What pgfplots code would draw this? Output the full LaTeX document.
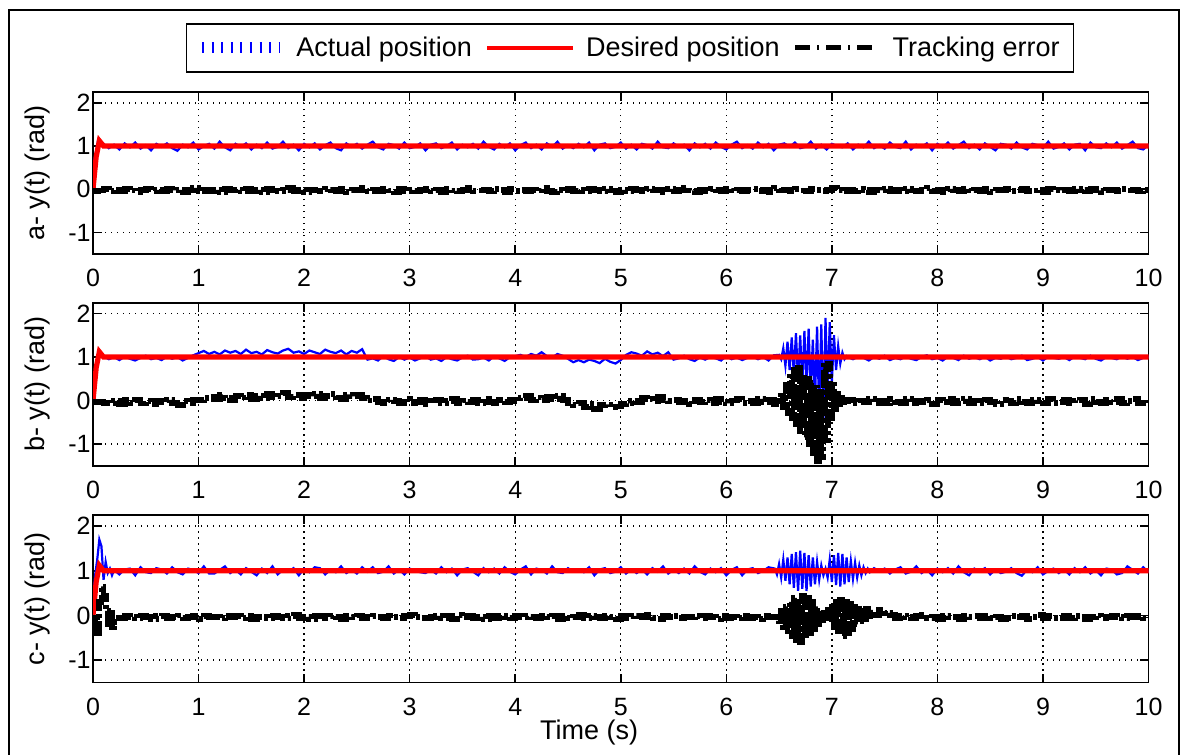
\documentclass[border=0pt]{standalone}
\usepackage{pgfplots}
\pgfplotsset{compat=1.18}
\usepackage{pgfplotstable}
\usepackage{fontspec}
\setmainfont{Liberation Sans}
\newcommand\fs{\fontsize{12.5}{15}\selectfont}
\newcommand\fl{\fontsize{13.5}{16}\selectfont}

\pgfplotstableread[row sep=\\]{
t y\\
0 0\\ 0.03 0.75\\ 0.06 1.12\\ 0.10 1.00\\ 10 1.00\\
}\tabD

\pgfplotstableread[row sep=\\]{
t y e\\
0.00 0.50 -0.04\\ 0.05 1.15 -0.03\\ 0.10 1.05 0.00\\
0.15 0.95 -0.04\\ 0.20 1.03 -0.01\\ 0.25 0.92 -0.05\\ 0.30 1.06 0.00\\ 0.35 0.97 -0.03\\ 0.40 1.08 -0.06\\ 0.45 0.94 -0.02\\ 0.50 1.02 0.01\\ 0.55 0.90 -0.04\\ 0.60 1.05 -0.02\\
0.65 0.98 -0.05\\ 0.70 1.06 0.00\\ 0.75 0.95 -0.03\\ 0.80 0.89 -0.01\\ 0.85 1.03 -0.06\\ 0.90 0.97 -0.02\\ 0.95 1.08 0.02\\ 1.00 0.92 -0.04\\ 1.05 1.00 -0.01\\ 1.10 1.05 -0.05\\
1.15 0.94 -0.02\\ 1.20 1.10 -0.06\\ 1.25 0.97 0.00\\ 1.30 0.90 -0.03\\ 1.35 1.05 -0.01\\ 1.40 0.98 -0.05\\ 1.45 1.06 0.01\\ 1.50 0.92 -0.04\\ 1.55 1.03 -0.02\\ 1.60 0.95 -0.06\\
1.65 1.08 0.00\\ 1.70 0.94 -0.03\\ 1.75 0.98 -0.05\\ 1.80 1.10 -0.01\\ 1.85 0.95 0.02\\ 1.90 1.03 -0.04\\ 1.95 0.90 -0.02\\ 2.00 1.05 -0.06\\ 2.05 0.97 -0.01\\ 2.10 1.06 -0.03\\
2.15 0.92 -0.05\\ 2.20 1.02 0.01\\ 2.25 1.08 -0.02\\ 2.30 0.95 -0.04\\ 2.35 0.90 0.00\\ 2.40 1.06 -0.06\\ 2.45 0.98 -0.01\\ 2.50 1.05 -0.03\\ 2.55 0.94 0.02\\ 2.60 1.03 -0.04\\
2.65 1.10 -0.02\\ 2.70 0.97 -0.05\\ 2.75 0.92 0.01\\ 2.80 1.05 -0.03\\ 2.85 1.02 -0.06\\ 2.90 0.94 0.00\\ 2.95 1.08 -0.04\\ 3.00 0.95 -0.01\\ 3.05 0.98 -0.05\\ 3.10 1.06 -0.02\\
3.15 0.90 0.01\\ 3.20 1.03 -0.04\\ 3.25 1.06 -0.02\\ 3.30 0.95 -0.06\\ 3.35 1.00 0.00\\ 3.40 1.08 -0.03\\ 3.45 0.92 -0.05\\ 3.50 1.03 -0.01\\ 3.55 0.97 0.02\\ 3.60 1.05 -0.04\\
3.65 0.94 -0.03\\ 3.70 1.10 -0.01\\ 3.75 0.98 -0.05\\ 3.80 0.92 0.01\\ 3.85 1.05 -0.02\\ 3.90 0.97 -0.06\\ 3.95 1.06 0.00\\ 4.00 0.90 -0.04\\ 4.05 1.02 -0.02\\ 4.10 1.08 -0.05\\
4.15 0.95 -0.01\\ 4.20 1.03 -0.03\\ 4.25 0.92 0.02\\ 4.30 1.06 -0.04\\ 4.35 0.98 -0.06\\ 4.40 1.10 -0.01\\ 4.45 0.94 -0.03\\ 4.50 1.02 0.00\\ 4.55 0.95 -0.05\\ 4.60 1.05 -0.02\\
4.65 0.97 -0.04\\ 4.70 1.08 0.00\\ 4.75 0.90 -0.02\\ 4.80 1.03 -0.05\\ 4.85 1.06 0.01\\ 4.90 0.95 -0.03\\ 4.95 0.98 -0.06\\ 5.00 1.08 -0.01\\ 5.05 0.94 -0.04\\ 5.10 1.03 0.00\\
5.15 0.92 -0.02\\ 5.20 1.05 -0.05\\ 5.25 1.02 0.01\\ 5.30 0.94 -0.03\\ 5.35 1.10 -0.01\\ 5.40 0.97 -0.06\\ 5.45 0.95 0.00\\ 5.50 1.06 -0.04\\ 5.55 0.98 -0.02\\ 5.60 1.03 0.02\\
5.65 0.90 -0.03\\ 5.70 1.06 -0.06\\ 5.75 0.97 -0.01\\ 5.80 1.05 -0.04\\ 5.85 0.94 0.00\\ 5.90 1.08 -0.02\\ 5.95 0.98 -0.05\\ 6.00 0.92 0.01\\ 6.05 1.03 -0.03\\ 6.10 1.10 -0.01\\
6.15 0.95 -0.05\\ 6.20 1.02 -0.02\\ 6.25 0.94 0.00\\ 6.30 1.08 -0.04\\ 6.35 0.97 -0.01\\ 6.40 1.05 -0.06\\ 6.45 0.90 0.02\\ 6.50 1.03 -0.03\\ 6.55 1.06 -0.01\\ 6.60 0.98 -0.04\\
6.65 1.08 0.00\\ 6.70 0.95 -0.03\\ 6.75 0.98 -0.05\\ 6.80 1.10 0.01\\ 6.85 0.94 -0.02\\ 6.90 1.03 -0.04\\ 6.95 0.92 -0.01\\ 7.00 1.05 0.03\\ 7.05 1.00 -0.02\\ 7.10 0.97 -0.05\\
7.15 1.06 -0.01\\ 7.20 0.92 -0.04\\ 7.25 1.03 0.00\\ 7.30 0.97 -0.02\\ 7.35 1.10 -0.06\\ 7.40 0.95 -0.01\\ 7.45 1.02 -0.03\\ 7.50 0.94 0.01\\ 7.55 1.08 -0.05\\ 7.60 0.98 -0.02\\
7.65 0.95 -0.04\\ 7.70 1.10 0.00\\ 7.75 0.92 -0.03\\ 7.80 1.03 -0.05\\ 7.85 0.98 -0.01\\ 7.90 1.06 0.02\\ 7.95 0.90 -0.04\\ 8.00 1.05 -0.02\\ 8.05 0.97 -0.06\\ 8.10 1.08 0.00\\
8.15 0.94 -0.02\\ 8.20 1.02 -0.05\\ 8.25 1.10 0.01\\ 8.30 0.95 -0.03\\ 8.35 1.03 -0.01\\ 8.40 0.92 -0.04\\ 8.45 1.06 0.00\\ 8.50 0.98 -0.06\\ 8.55 0.90 -0.02\\ 8.60 1.05 -0.03\\
8.65 1.03 0.00\\ 8.70 0.94 -0.04\\ 8.75 1.08 -0.02\\ 8.80 0.97 0.01\\ 8.85 0.92 -0.05\\ 8.90 1.05 -0.03\\ 8.95 1.02 -0.01\\ 9.00 0.95 -0.06\\ 9.05 1.10 0.00\\ 9.10 0.94 -0.02\\
9.15 0.98 -0.03\\ 9.20 1.06 -0.01\\ 9.25 0.92 -0.05\\ 9.30 1.03 0.00\\ 9.35 1.05 -0.02\\ 9.40 0.90 -0.04\\ 9.45 1.08 0.01\\ 9.50 0.97 -0.03\\ 9.55 0.95 -0.06\\ 9.60 1.06 -0.01\\
9.65 0.97 -0.02\\ 9.70 1.08 -0.04\\ 9.75 0.94 0.00\\ 9.80 1.02 -0.03\\ 9.85 1.10 -0.01\\ 9.90 0.95 -0.05\\ 9.95 0.92 -0.02\\ 10.00 1.03 0.00\\
}\tabA

\pgfplotstableread[row sep=\\]{
t y e\\
0.00 0.40 -0.03\\ 0.05 1.10 -0.03\\ 0.10 1.02 -0.05\\
0.15 0.95 -0.06\\ 0.20 1.00 -0.01\\ 0.25 0.93 -0.08\\ 0.30 1.01 0.01\\ 0.35 0.96 -0.05\\ 0.40 0.92 0.02\\ 0.45 0.98 -0.07\\ 0.50 1.03 -0.02\\ 0.55 0.95 -0.09\\ 0.60 0.98 0.00\\
0.65 0.93 -0.04\\ 0.70 1.01 0.01\\ 0.75 0.96 -0.06\\ 0.80 1.00 -0.10\\ 0.85 0.92 -0.01\\ 0.90 0.98 -0.05\\ 0.95 1.04 0.02\\ 1.00 1.09 0.01\\ 1.05 1.14 0.06\\ 1.10 1.07 0.09\\
1.15 1.12 0.04\\ 1.20 1.06 0.14\\ 1.25 1.15 0.06\\ 1.30 1.10 0.02\\ 1.35 1.14 0.11\\ 1.40 1.07 0.07\\ 1.45 1.17 0.12\\ 1.50 1.09 0.03\\ 1.55 1.12 0.10\\ 1.60 1.06 0.05\\
1.65 1.16 0.16\\ 1.70 1.11 0.07\\ 1.75 1.08 0.10\\ 1.80 1.15 0.17\\ 1.85 1.19 0.08\\ 1.90 1.10 0.13\\ 1.95 1.13 0.05\\ 2.00 1.07 0.14\\ 2.05 1.15 0.09\\ 2.10 1.11 0.15\\
2.15 1.07 0.05\\ 2.20 1.17 0.11\\ 2.25 1.12 0.15\\ 2.30 1.09 0.07\\ 2.35 1.15 0.04\\ 2.40 1.06 0.14\\ 2.45 1.14 0.09\\ 2.50 1.10 0.13\\ 2.55 1.18 0.06\\ 2.60 0.94 0.00\\
2.65 0.97 0.04\\ 2.70 0.92 -0.04\\ 2.75 1.02 -0.07\\ 2.80 0.95 0.01\\ 2.85 0.91 -0.01\\ 2.90 1.00 -0.06\\ 2.95 0.94 0.03\\ 3.00 0.99 -0.05\\ 3.05 0.92 -0.03\\ 3.10 0.97 0.02\\
3.15 1.02 -0.08\\ 3.20 0.94 0.00\\ 3.25 0.97 0.02\\ 3.30 0.91 -0.05\\ 3.35 1.00 -0.02\\ 3.40 0.95 0.03\\ 3.45 0.92 -0.07\\ 3.50 0.99 0.00\\ 3.55 1.03 -0.04\\ 3.60 0.94 0.01\\
3.65 0.95 -0.06\\ 3.70 0.99 0.04\\ 3.75 0.92 -0.03\\ 3.80 1.02 -0.07\\ 3.85 0.97 0.01\\ 3.90 0.91 -0.04\\ 3.95 1.00 0.02\\ 4.00 1.02 -0.01\\ 4.05 1.05 0.06\\ 4.10 1.00 0.10\\
4.15 1.07 0.02\\ 4.20 1.03 0.07\\ 4.25 1.11 0.00\\ 4.30 1.02 0.09\\ 4.35 0.99 0.04\\ 4.40 1.07 0.11\\ 4.45 1.03 0.01\\ 4.50 0.96 -0.07\\ 4.55 0.88 -0.11\\ 4.60 0.93 -0.05\\
4.65 0.88 -0.15\\ 4.70 0.94 -0.08\\ 4.75 0.91 -0.19\\ 4.80 0.86 -0.11\\ 4.85 0.96 -0.09\\ 4.90 0.89 -0.16\\ 4.95 0.85 -0.14\\ 5.00 0.93 -0.08\\ 5.05 1.05 -0.07\\ 5.10 1.11 -0.01\\
5.15 1.08 -0.03\\ 5.20 1.03 0.05\\ 5.25 1.13 0.03\\ 5.30 1.06 -0.02\\ 5.35 1.10 0.08\\ 5.40 1.02 0.00\\ 5.45 1.11 -0.01\\ 5.50 0.94 0.02\\ 5.55 0.97 -0.03\\ 5.60 1.03 0.00\\
5.65 0.95 -0.08\\ 5.70 0.91 0.02\\ 5.75 0.99 -0.04\\ 5.80 0.94 0.01\\ 5.85 1.00 -0.06\\ 5.90 0.97 0.03\\ 5.95 0.92 -0.03\\ 6.00 1.02 -0.07\\ 6.05 0.95 0.00\\ 6.10 0.99 0.04\\
6.15 0.93 -0.05\\ 6.20 0.98 -0.01\\ 6.25 1.01 -0.06\\ 6.30 0.95 0.03\\ 6.35 1.00 -0.04\\ 6.40 0.92 0.01\\ 6.45 1.04 -0.08\\
6.50 1.05 -0.02\\ 6.52 0.95 0.10\\ 6.54 1.20 -0.15\\ 6.56 0.80 0.35\\ 6.58 1.35 -0.30\\ 6.60 0.70 0.55\\ 6.62 1.45 -0.40\\ 6.64 0.60 0.70\\ 6.66 1.55 -0.55\\ 6.68 0.45 0.75\\
6.70 1.50 -0.70\\ 6.72 0.35 0.60\\ 6.74 1.60 -0.85\\ 6.76 0.30 0.50\\ 6.78 1.65 -1.00\\ 6.80 0.20 0.40\\ 6.82 1.40 -1.20\\ 6.84 0.00 0.30\\ 6.86 1.70 -1.40\\ 6.88 -0.30 0.20\\
6.90 1.75 -1.30\\ 6.92 -0.45 0.80\\ 6.94 1.90 -0.90\\ 6.96 0.10 0.85\\ 6.98 1.80 -0.40\\ 7.00 0.40 0.35\\ 7.02 1.50 -0.20\\ 7.04 0.70 0.15\\ 7.06 1.25 -0.08\\ 7.08 0.85 0.05\\
7.10 1.10 -0.03\\ 7.12 0.95 0.02\\ 7.14 1.02 -0.02\\
7.15 1.00 0.02\\ 7.20 0.95 -0.07\\ 7.25 1.01 0.00\\ 7.30 0.98 -0.04\\ 7.35 0.92 0.04\\ 7.40 1.00 -0.05\\ 7.45 0.96 -0.01\\ 7.50 1.03 -0.06\\ 7.55 0.93 0.03\\ 7.60 0.98 -0.03\\
7.65 0.95 -0.05\\ 7.70 1.01 0.04\\ 7.75 0.96 -0.07\\ 7.80 0.93 0.00\\ 7.85 1.00 -0.03\\ 7.90 1.04 0.02\\ 7.95 0.95 -0.08\\ 8.00 0.98 0.01\\ 8.05 0.92 -0.04\\ 8.10 1.01 0.03\\
8.15 0.98 -0.06\\ 8.20 0.93 -0.01\\ 8.25 1.03 0.04\\ 8.30 0.96 -0.05\\ 8.35 1.00 0.00\\ 8.40 0.95 -0.07\\ 8.45 1.01 0.02\\ 8.50 0.92 -0.03\\ 8.55 0.98 -0.08\\ 8.60 0.96 0.01\\
8.65 1.01 0.00\\ 8.70 0.95 -0.06\\ 8.75 0.98 0.03\\ 8.80 1.03 -0.04\\ 8.85 0.93 -0.07\\ 8.90 0.96 0.01\\ 8.95 1.00 -0.01\\ 9.00 0.92 -0.05\\ 9.05 1.01 0.04\\ 9.10 0.98 -0.06\\
9.15 0.96 -0.03\\ 9.20 1.00 0.02\\ 9.25 0.93 -0.07\\ 9.30 1.01 0.00\\ 9.35 0.98 0.01\\ 9.40 0.95 -0.08\\ 9.45 1.03 0.03\\ 9.50 0.96 -0.04\\ 9.55 0.92 -0.05\\ 9.60 1.00 0.02\\
9.65 0.98 -0.04\\ 9.70 0.95 0.03\\ 9.75 1.01 -0.06\\ 9.80 0.96 -0.01\\ 9.85 1.00 0.04\\ 9.90 0.93 -0.05\\ 9.95 0.98 -0.07\\ 10.00 1.01 0.00\\
}\tabB

\pgfplotstableread[row sep=\\]{
t y e\\
0.00 0.30 -0.30\\ 0.02 0.90 -0.05\\ 0.04 1.25 -0.40\\ 0.06 1.70 0.30\\ 0.08 1.55 0.65\\ 0.10 0.80 0.45\\ 0.12 1.20 0.10\\ 0.14 0.95 -0.20\\ 0.16 1.05 0.05\\ 0.18 0.90 -0.25\\ 0.20 1.02 -0.15\\
0.25 0.92 -0.06\\ 0.30 1.03 -0.01\\ 0.35 1.05 -0.03\\ 0.40 0.90 -0.05\\ 0.45 1.08 0.00\\ 0.50 0.97 -0.04\\ 0.55 0.95 -0.07\\ 0.60 1.06 -0.02\\
0.65 1.03 -0.01\\ 0.70 0.94 -0.05\\ 0.75 1.08 -0.03\\ 0.80 0.97 0.00\\ 0.85 0.92 -0.06\\ 0.90 1.05 -0.04\\ 0.95 1.02 -0.02\\ 1.00 0.95 -0.07\\ 1.05 1.10 -0.01\\ 1.10 0.94 -0.03\\
1.15 0.94 -0.03\\ 1.20 1.02 -0.06\\ 1.25 1.10 0.00\\ 1.30 0.95 -0.04\\ 1.35 1.03 -0.02\\ 1.40 0.92 -0.05\\ 1.45 1.06 -0.01\\ 1.50 0.98 -0.07\\ 1.55 0.90 -0.03\\ 1.60 1.05 -0.04\\
1.65 0.95 -0.05\\ 1.70 1.10 -0.01\\ 1.75 0.92 -0.04\\ 1.80 1.03 -0.06\\ 1.85 0.98 -0.02\\ 1.90 1.06 0.01\\ 1.95 0.90 -0.05\\ 2.00 1.05 -0.03\\ 2.05 0.97 -0.07\\ 2.10 1.08 -0.01\\
2.15 1.06 -0.02\\ 2.20 0.92 -0.05\\ 2.25 1.03 -0.01\\ 2.30 0.97 -0.03\\ 2.35 1.10 -0.07\\ 2.40 0.95 -0.02\\ 2.45 1.02 -0.04\\ 2.50 0.94 0.00\\ 2.55 1.08 -0.06\\ 2.60 0.98 -0.03\\
2.65 1.08 -0.01\\ 2.70 0.95 -0.04\\ 2.75 0.98 -0.06\\ 2.80 1.10 0.00\\ 2.85 0.94 -0.03\\ 2.90 1.03 -0.05\\ 2.95 0.92 -0.02\\ 3.00 1.05 0.02\\ 3.05 1.00 -0.03\\ 3.10 0.97 -0.06\\
3.15 0.95 -0.06\\ 3.20 1.02 -0.03\\ 3.25 0.94 -0.01\\ 3.30 1.08 -0.05\\ 3.35 0.97 -0.02\\ 3.40 1.05 -0.07\\ 3.45 0.90 0.01\\ 3.50 1.03 -0.04\\ 3.55 1.06 -0.02\\ 3.60 0.98 -0.05\\
3.65 0.90 -0.04\\ 3.70 1.06 -0.07\\ 3.75 0.97 -0.02\\ 3.80 1.05 -0.05\\ 3.85 0.94 -0.01\\ 3.90 1.08 -0.03\\ 3.95 0.98 -0.06\\ 4.00 0.92 0.00\\ 4.05 1.03 -0.04\\ 4.10 1.10 -0.02\\
4.15 0.92 -0.03\\ 4.20 1.05 -0.06\\ 4.25 1.02 0.00\\ 4.30 0.94 -0.04\\ 4.35 1.10 -0.02\\ 4.40 0.97 -0.07\\ 4.45 0.95 -0.01\\ 4.50 1.06 -0.05\\ 4.55 0.98 -0.03\\ 4.60 1.03 0.01\\
4.65 0.97 -0.05\\ 4.70 1.08 -0.01\\ 4.75 0.90 -0.03\\ 4.80 1.03 -0.06\\ 4.85 1.06 0.00\\ 4.90 0.95 -0.04\\ 4.95 0.98 -0.07\\ 5.00 1.08 -0.02\\ 5.05 0.94 -0.05\\ 5.10 1.03 -0.01\\
5.15 0.95 -0.02\\ 5.20 1.03 -0.04\\ 5.25 0.92 0.01\\ 5.30 1.06 -0.05\\ 5.35 0.98 -0.07\\ 5.40 1.10 -0.02\\ 5.45 0.94 -0.04\\ 5.50 1.02 -0.01\\ 5.55 0.95 -0.06\\ 5.60 1.05 -0.03\\
5.65 0.94 -0.04\\ 5.70 1.10 -0.02\\ 5.75 0.98 -0.06\\ 5.80 0.92 0.00\\ 5.85 1.05 -0.03\\ 5.90 0.97 -0.07\\ 5.95 1.06 -0.01\\ 6.00 0.90 -0.05\\ 6.05 1.02 -0.03\\ 6.10 1.08 -0.06\\
6.15 0.90 0.00\\ 6.20 1.03 -0.05\\ 6.25 1.06 -0.03\\ 6.30 0.95 -0.07\\ 6.35 1.00 -0.01\\ 6.40 1.08 -0.04\\
6.46 1.05 -0.03\\ 6.48 0.92 0.05\\ 6.50 1.15 -0.12\\ 6.52 0.85 0.10\\ 6.54 1.25 -0.25\\ 6.56 0.78 0.20\\ 6.58 1.30 -0.35\\ 6.60 0.70 0.30\\ 6.62 1.38 -0.45\\ 6.64 0.62 0.40\\
6.66 1.42 -0.55\\ 6.68 0.55 0.35\\ 6.70 1.45 -0.60\\ 6.72 0.60 0.45\\ 6.74 1.40 -0.50\\ 6.76 0.55 0.40\\ 6.78 1.35 -0.40\\ 6.80 0.65 0.30\\ 6.82 1.30 -0.30\\ 6.84 0.70 0.20\\
6.86 1.20 -0.20\\ 6.88 0.80 0.10\\ 6.90 1.12 -0.10\\ 6.92 0.90 0.05\\ 6.94 1.05 -0.05\\ 6.96 0.85 0.12\\ 6.98 1.25 -0.15\\ 7.00 0.75 0.20\\ 7.02 1.35 -0.25\\ 7.04 0.68 0.30\\
7.06 1.40 -0.35\\ 7.08 0.65 0.35\\ 7.10 1.38 -0.45\\ 7.12 0.70 0.30\\ 7.14 1.30 -0.40\\ 7.16 0.75 0.25\\ 7.18 1.22 -0.30\\ 7.20 0.82 0.20\\ 7.22 1.18 -0.20\\ 7.24 0.85 0.15\\
7.26 1.12 -0.12\\ 7.28 0.90 0.10\\ 7.30 1.08 -0.08\\ 7.32 0.95 0.15\\ 7.34 1.05 -0.02\\ 7.36 0.97 0.12\\ 7.38 1.02 0.02\\
7.40 1.06 0.02\\ 7.45 0.98 0.12\\ 7.50 1.05 0.05\\ 7.55 0.94 0.01\\ 7.60 1.03 -0.05\\
7.65 1.08 -0.01\\ 7.70 0.94 -0.04\\ 7.75 0.98 -0.06\\ 7.80 1.10 -0.02\\ 7.85 0.95 0.01\\ 7.90 1.03 -0.05\\ 7.95 0.90 -0.03\\ 8.00 1.05 -0.07\\ 8.05 0.97 -0.02\\ 8.10 1.06 -0.04\\
8.15 0.94 -0.03\\ 8.20 1.10 -0.07\\ 8.25 0.97 -0.01\\ 8.30 0.90 -0.04\\ 8.35 1.05 -0.02\\ 8.40 0.98 -0.06\\ 8.45 1.06 0.00\\ 8.50 0.92 -0.05\\ 8.55 1.03 -0.03\\ 8.60 0.95 -0.07\\
8.65 0.98 -0.06\\ 8.70 1.06 -0.01\\ 8.75 0.95 -0.04\\ 8.80 0.89 -0.02\\ 8.85 1.03 -0.07\\ 8.90 0.97 -0.03\\ 8.95 1.08 0.01\\ 9.00 0.92 -0.05\\ 9.05 1.00 -0.02\\ 9.10 1.05 -0.06\\
9.15 0.95 -0.05\\ 9.20 1.03 -0.02\\ 9.25 0.92 -0.06\\ 9.30 1.06 -0.01\\ 9.35 0.97 -0.04\\ 9.40 1.08 -0.07\\ 9.45 0.94 -0.03\\ 9.50 1.02 0.00\\ 9.55 0.90 -0.05\\ 9.60 1.05 -0.03\\
9.65 1.03 -0.01\\ 9.70 0.92 -0.03\\ 9.75 0.95 -0.06\\ 9.80 1.10 -0.02\\ 9.85 1.02 -0.04\\ 9.90 0.94 -0.01\\ 9.95 1.08 -0.05\\ 10.00 0.97 -0.03\\
}\tabC

\pgfplotsset{
  panel/.style={
    scale only axis, width=527.75pt,
    xmin=0, xmax=10, ymin=-1.5, ymax=2.25,
    xtick={0,1,2,3,4,5,6,7,8,9,10}, xticklabels={0,1,2,3,4,5,6,7,8,9,10},
    ytick={-1,0,1,2}, yticklabels={-1,0,1,2},
    tick align=inside, xtick pos=both, ytick pos=both,
    xticklabel pos=lower, yticklabel pos=left,
    major tick length=4.5pt,
    grid=major,
    major grid style={black, line width=0.7pt, dash pattern=on 0.7pt off 2.3pt},
    axis line style={line width=0.8pt},
    every tick/.style={black, line width=0.8pt},
    tick label style={font=\fs, inner sep=1pt},
    xticklabel style={yshift=-6.5pt},
    label style={font=\fl},
    ylabel style={at={(axis description cs:-0.053,0.5)}, anchor=center},
  },
  act/.style={blue, line width=1.1pt},
  des/.style={red, line width=2.6pt},
  err/.style={black, line width=2.9pt, const plot, dash pattern=on 9pt off 1.5pt on 2pt off 1.5pt},
}

\begin{document}
\begin{tikzpicture}
\useasboundingbox (0,0) rectangle (592.5pt,-377.5pt);
\draw[line width=1pt] (4.25pt,-395pt) -- (4.25pt,-5pt) -- (589.5pt,-5pt) -- (589.5pt,-395pt);

\begin{axis}[panel, height=81pt, at={(46.5pt,-46pt)}, anchor=north west,
  ylabel={a- y(t) (rad)},
  legend style={at={(axis description cs:0.5088,1.2716)}, anchor=center,
    legend columns=3, draw=black, line width=0.8pt, font=\fl,
    inner xsep=5pt, inner ysep=4.5pt,
    /tikz/every odd column/.append style={column sep=3.5pt},
    /tikz/every even column/.append style={column sep=4.5pt}},
]
\addplot[act, legend image code/.code={\draw[blue, line width=5.5pt, solid, dash pattern=on 1pt off 3.8pt] (0pt,0pt) -- (39pt,0pt);}] table[x=t, y=y] {\tabA};
\addlegendentry{Actual position}
\addplot[des, legend image code/.code={\draw[red, line width=2pt, solid] (0pt,0pt) -- (43pt,0pt);}] table[x=t, y=y] {\tabD};
\addlegendentry{Desired position}
\addplot[err, legend image code/.code={\draw[black, line width=2.5pt, dash pattern=on 7.5pt off 3.5pt on 1pt off 3.5pt] (0pt,0pt) -- (42pt,0pt);}] table[x=t, y=e] {\tabA};
\addlegendentry{Tracking error}
\end{axis}

\begin{axis}[panel, height=81.5pt, at={(46.5pt,-151.35pt)}, anchor=north west,
  ylabel={b- y(t) (rad)}]
\addplot[act] table[x=t, y=y] {\tabB};
\addplot[des] table[x=t, y=y] {\tabD};
\addplot[err] table[x=t, y=e] {\tabB};
\end{axis}

\begin{axis}[panel, height=83.75pt, at={(46.5pt,-257.5pt)}, anchor=north west,
  ylabel={c- y(t) (rad)},
  xlabel={Time (s)},
  xlabel style={at={(axis description cs:0.47,-0.30)}, anchor=center}]
\addplot[act] table[x=t, y=y] {\tabC};
\addplot[des] table[x=t, y=y] {\tabD};
\addplot[err] table[x=t, y=e] {\tabC};
\end{axis}
\end{tikzpicture}
\end{document}
